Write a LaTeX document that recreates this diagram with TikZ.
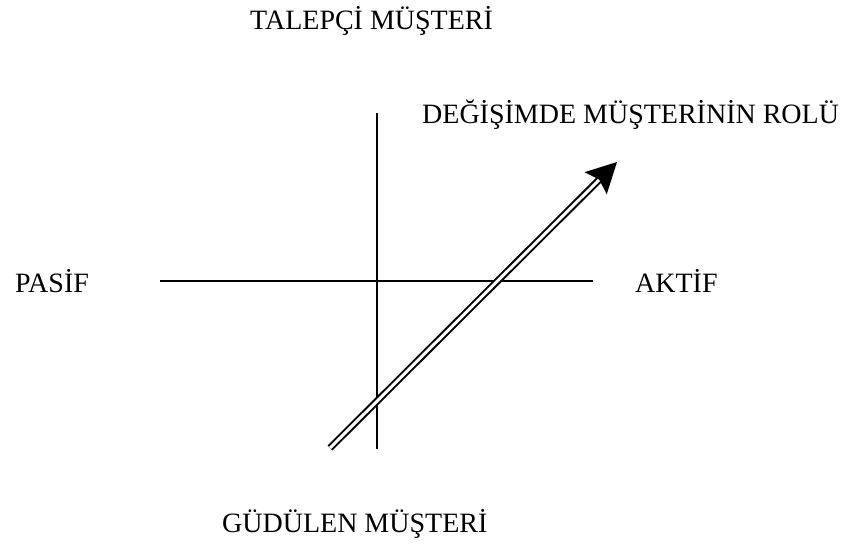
\documentclass[tikz,border=0pt]{standalone}
\usepackage{fontspec}
\setmainfont{Liberation Serif}
\usepackage{tikz}
\usetikzlibrary{arrows.meta, calc, positioning}

\begin{document}
\begin{tikzpicture}[
    x=1pt, y=-1pt,
    label/.style={inner sep=0pt, font=\fontsize{28}{34}\selectfont},
    axis/.style={line width=1.3pt},
    arrow/.style={double, double distance=3pt, line width=2pt, -{Stealth[length=30pt, width=31pt, inset=5pt]}}
]
    \useasboundingbox (0,0) rectangle (868,545);

    % eksenler
    \coordinate (htop) at (377,113);
    \coordinate (hbot) at (377,449);
    \coordinate (hleft) at (160,281);
    \coordinate (hright) at (593,281);
    \draw[axis] (htop) -- (hbot);
    \draw[axis] (hleft) -- (hright);

    % etiketler
    \node[label, anchor=base west] (talepci) at (250,30) {TALEPÇİ MÜŞTERİ};
    \node[label, anchor=base west] (rol) at (422,124) {DEĞİŞİMDE MÜŞTERİNİN ROLÜ};
    \node[label, anchor=base west] (pasif) at (15,293) {PASİF};
    \node[label, anchor=base west] (aktif) at (635,293) {AKTİF};
    \node[label, anchor=base west] (gudulen) at (222,532) {GÜDÜLEN MÜŞTERİ};

    % ok
    \coordinate (okbas) at (330,448);
    \coordinate (okson) at (617,162);
    \draw[arrow] (okbas) -- (okson);
\end{tikzpicture}
\end{document}
